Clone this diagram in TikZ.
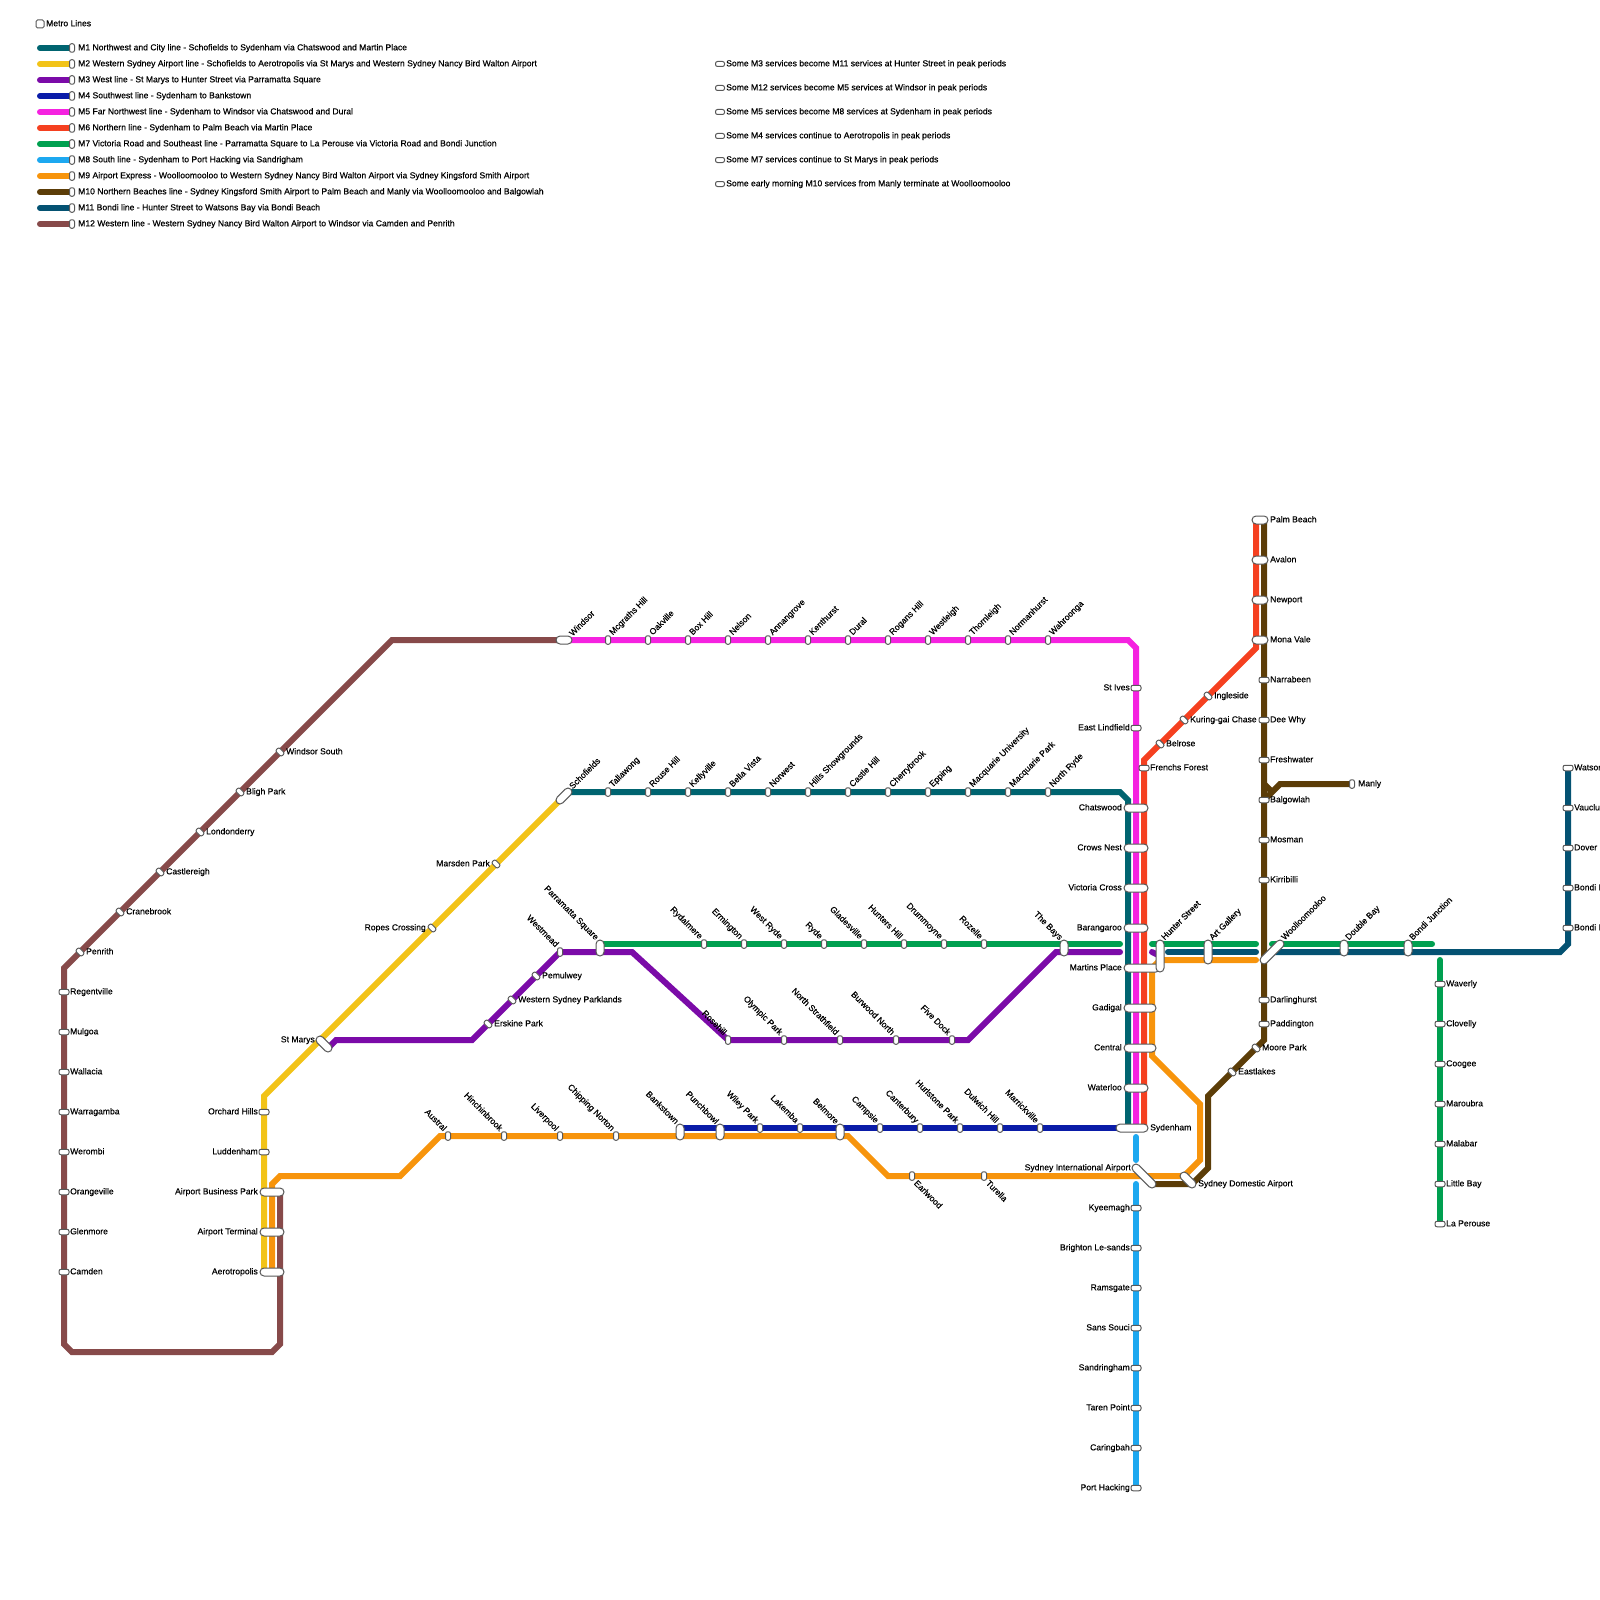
\documentclass[tikz,border=0pt]{standalone}
\usepackage{fontspec}
\newfontfamily\metrofont{Liberation Sans}[FakeBold=0.35]
\usetikzlibrary{backgrounds}
\definecolor{mone}{HTML}{006470}
\definecolor{mtwo}{HTML}{F2C318}
\definecolor{mthree}{HTML}{7B0BA8}
\definecolor{mfour}{HTML}{0A1CA8}
\definecolor{mfive}{HTML}{F522E0}
\definecolor{msix}{HTML}{F54020}
\definecolor{mseven}{HTML}{00A050}
\definecolor{meight}{HTML}{1DA8F0}
\definecolor{mnine}{HTML}{F7940C}
\definecolor{mten}{HTML}{5C3D08}
\definecolor{meleven}{HTML}{045272}
\definecolor{mtwelve}{HTML}{874A4A}
\tikzset{
  metro/.style = {line width=6pt},
  rnd/.style   = {metro, line cap=round},
  stn/.style   = {draw=black!65, fill=white, line width=1pt, inner sep=0pt,
                  rounded corners=2pt, minimum width=5pt, minimum height=8.5pt},
  stnl/.style  = {stn, minimum width=10pt, minimum height=5.5pt},
  pillh/.style = {stn, rounded corners=4pt, minimum height=8pt, minimum width=#1},
  pillv/.style = {stn, rounded corners=4pt, minimum width=8pt, minimum height=#1},
  txt/.style   = {font=\metrofont\fontsize{8.6}{10}\selectfont, inner sep=0pt,
                  text height=6.4pt, text depth=1.8pt},
  lblr/.style  = {txt, anchor=west},
  lbll/.style  = {txt, anchor=east},
  lblur/.style = {txt, anchor=west, rotate=45},
  lblul/.style = {txt, anchor=east, rotate=-45},
  lbldr/.style = {txt, anchor=west, rotate=-45}
}
\begin{document}
\begin{tikzpicture}[x=1pt,y=-1pt]
  \useasboundingbox (0,0) rectangle (1600,1600);
  % legend
  \node[stn, minimum width=8pt, minimum height=8pt, rounded corners=1.5pt] (legbox) at (40,24) {};
  \node[lblr] (legbox-t) at (46,24) {Metro Lines};
  \foreach \y/\col/\txtl in {
    48/mone/M1 Northwest and City line - Schofields to Sydenham via Chatswood and Martin Place,
    64/mtwo/M2 Western Sydney Airport line - Schofields to Aerotropolis via St Marys and Western Sydney Nancy Bird Walton Airport,
    80/mthree/M3 West line - St Marys to Hunter Street via Parramatta Square,
    96/mfour/M4 Southwest line - Sydenham to Bankstown,
    112/mfive/M5 Far Northwest line - Sydenham to Windsor via Chatswood and Dural,
    128/msix/M6 Northern line - Sydenham to Palm Beach via Martin Place,
    144/mseven/M7 Victoria Road and Southeast line - Parramatta Square to La Perouse via Victoria Road and Bondi Junction,
    160/meight/M8 South line - Sydenham to Port Hacking via Sandrigham,
    176/mnine/M9 Airport Express - Woolloomooloo to Western Sydney Nancy Bird Walton Airport via Sydney Kingsford Smith Airport,
    192/mten/M10 Northern Beaches line - Sydney Kingsford Smith Airport to Palm Beach and Manly via Woolloomooloo and Balgowlah,
    208/meleven/M11 Bondi line - Hunter Street to Watsons Bay via Bondi Beach,
    224/mtwelve/M12 Western line - Western Sydney Nancy Bird Walton Airport to Windsor via Camden and Penrith}{
    \coordinate (\col-a) at (40,\y);
    \node[stn] (\col-k) at (72,\y) {};
    \node[lblr] (\col-t) at (78,\y) {\txtl};
    \begin{scope}[on background layer]
      \draw[rnd,draw=\col] (\col-a) -- (\col-k.center);
    \end{scope}
  }
  \foreach \y/\nm/\txtl in {
    64/nta/Some M3 services become M11 services at Hunter Street in peak periods,
    88/ntb/Some M12 services become M5 services at Windsor in peak periods,
    112/ntc/Some M5 services become M8 services at Sydenham in peak periods,
    136/ntd/Some M4 services continue to Aerotropolis in peak periods,
    160/nte/Some M7 services continue to St Marys in peak periods,
    184/ntf/Some early morning M10 services from Manly terminate at Woolloomooloo}{
    \node[stn, minimum width=9pt, minimum height=5pt] (\nm) at (720,\y) {};
    \node[lblr] (\nm-t) at (726,\y) {\txtl};
  }
  % stations on upright lines, label right
  \foreach \x/\y/\nm/\txtl in {
    1264/680/narrabeen/Narrabeen, 1264/720/deewhy/Dee Why, 1264/760/freshwater/Freshwater,
    1264/800/balgowlah/Balgowlah, 1264/840/mosman/Mosman, 1264/880/kirribilli/Kirribilli,
    1264/1000/darlinghurst/Darlinghurst, 1264/1024/paddington/Paddington,
    64/992/regentville/Regentville, 64/1032/mulgoa/Mulgoa, 64/1072/wallacia/Wallacia,
    64/1112/warragamba/Warragamba, 64/1152/werombi/Werombi, 64/1192/orangeville/Orangeville,
    64/1232/glenmore/Glenmore, 64/1272/camden/Camden,
    1440/984/waverly/Waverly, 1440/1024/clovelly/Clovelly, 1440/1064/coogee/Coogee,
    1440/1104/maroubra/Maroubra, 1440/1144/malabar/Malabar, 1440/1184/littlebay/Little Bay,
    1440/1224/laperouse/La Perouse,
    1568/768/watsons/Watsons Bay, 1568/808/vaucluse/Vaucluse, 1568/848/dover/Dover Heights,
    1568/888/bondinorth/Bondi North, 1568/928/bondibeach/Bondi Beach,
    1144/768/frenchs/Frenchs Forest}{
    \node[stnl] (\nm) at (\x,\y) {};
    \node[lblr] (\nm-t) at (\x+6,\y) {\txtl};
  }
  % stations on upright lines, label left
  \foreach \x/\y/\nm/\txtl in {
    264/1112/orchard/Orchard Hills, 264/1152/luddenham/Luddenham,
    1136/688/stives/St Ives, 1136/728/lindfield/East Lindfield,
    1136/1208/kyeemagh/Kyeemagh, 1136/1248/brighton/Brighton Le-sands, 1136/1288/ramsgate/Ramsgate,
    1136/1328/sanssouci/Sans Souci, 1136/1368/sandringham/Sandringham, 1136/1408/taren/Taren Point,
    1136/1448/caringbah/Caringbah, 1136/1488/porthacking/Port Hacking}{
    \node[stnl] (\nm) at (\x,\y) {};
    \node[lbll] (\nm-t) at (\x-6,\y) {\txtl};
  }
  % stations on diagonals
  \foreach \x/\y/\nm/\txtl in {
    280/752/windsorsth/Windsor South, 240/792/bligh/Bligh Park, 200/832/londonderry/Londonderry,
    160/872/castlereigh/Castlereigh, 120/912/cranebrook/Cranebrook, 80/952/penrith/Penrith,
    488/1024/erskine/Erskine Park, 512/1000/parklands/Western Sydney Parklands, 536/976/pemulwey/Pemulwey,
    1208/696/ingleside/Ingleside, 1184/720/kuring/Kuring-gai Chase, 1160/744/belrose/Belrose,
    1256/1048/moorepark/Moore Park, 1232/1072/eastlakes/Eastlakes}{
    \node[stn, rotate=45] (\nm) at (\x,\y) {};
    \node[lblr] (\nm-t) at (\x+6,\y) {\txtl};
  }
  \foreach \x/\y/\nm/\txtl in {496/864/marsden/Marsden Park, 432/928/ropes/Ropes Crossing}{
    \node[stn, rotate=45] (\nm) at (\x,\y) {};
    \node[lbll] (\nm-t) at (\x-6,\y) {\txtl};
  }
  % stations with slanted labels
  \foreach \x/\y/\nm/\txtl in {
    608/792/tallawong/Tallawong, 648/792/rousehill/Rouse Hill, 688/792/kellyville/Kellyville,
    728/792/bellavista/Bella Vista, 768/792/norwest/Norwest, 808/792/hills/Hills Showgrounds,
    848/792/castlehill/Castle Hill, 888/792/cherrybrook/Cherrybrook, 928/792/epping/Epping,
    968/792/macuni/Macquarie University, 1008/792/macpark/Macquarie Park, 1048/792/northryde/North Ryde,
    608/640/mcgraths/Mcgraths Hill, 648/640/oakville/Oakville, 688/640/boxhill/Box Hill,
    728/640/nelson/Nelson, 768/640/annangrove/Annangrove, 808/640/kenthurst/Kenthurst,
    848/640/dural/Dural, 888/640/rogans/Rogans Hill, 928/640/westleigh/Westleigh,
    968/640/thornleigh/Thornleigh, 1008/640/normanhurst/Normanhurst, 1048/640/wahroonga/Wahroonga}{
    \node[stn] (\nm) at (\x,\y) {};
    \node[lblur] (\nm-t) at (\x+3,\y-6) {\txtl};
  }
  \foreach \x/\y/\nm/\txtl in {
    704/944/rydalmere/Rydalmere, 744/944/ermington/Ermington, 784/944/westryde/West Ryde,
    824/944/ryde/Ryde, 864/944/gladesville/Gladesville, 904/944/huntershill/Hunters Hill,
    944/944/drummoyne/Drummoyne, 984/944/rozelle/Rozelle,
    560/952/westmead/Westmead, 728/1040/rosehill/Rosehill, 784/1040/olympic/Olympic Park,
    840/1040/strathfield/North Strathfield, 896/1040/burwood/Burwood North, 952/1040/fivedock/Five Dock,
    760/1128/wiley/Wiley Park, 800/1128/lakemba/Lakemba, 880/1128/campsie/Campsie,
    920/1128/canterbury/Canterbury, 960/1128/hurlstone/Hurlstone Park, 1000/1128/dulwich/Dulwich Hill,
    1040/1128/marrickville/Marrickville,
    448/1136/austral/Austral, 504/1136/hinchinbrook/Hinchinbrook, 560/1136/liverpool/Liverpool,
    616/1136/chipping/Chipping Norton}{
    \node[stn] (\nm) at (\x,\y) {};
    \node[lblul] (\nm-t) at (\x-3,\y-6) {\txtl};
  }
  \foreach \x/\nm/\txtl in {912/earlwood/Earlwood, 984/turella/Turella}{
    \node[stn] (\nm) at (\x,1176) {};
    \node[lbldr] (\nm-t) at (\x+3,1176+6) {\txtl};
  }
  \node[stn] (manly) at (1352,784) {};
  \node[lblr] (manly-t) at (1358,784) {Manly};
  % interchanges
  \foreach \y/\nm/\txtl in {520/palm/Palm Beach, 560/avalon/Avalon, 600/newport/Newport, 640/monavale/Mona Vale}{
    \node[pillh=16pt] (\nm) at (1260,\y) {};
    \node[lblr] (\nm-t) at (1270,\y) {\txtl};
  }
  \foreach \x/\y/\w/\nm/\txtl in {
    1136/808/24/chatswood/Chatswood, 1136/848/24/crowsnest/Crows Nest, 1136/888/24/victoria/Victoria Cross,
    1136/928/24/barangaroo/Barangaroo, 1142/968/36/martins/Martins Place, 1140/1008/32/gadigal/Gadigal,
    1140/1048/32/central/Central, 1136/1088/24/waterloo/Waterloo,
    272/1192/24/business/Airport Business Park, 272/1232/24/terminal/Airport Terminal, 272/1272/24/aerotropolis/Aerotropolis}{
    \node[pillh=\w pt] (\nm) at (\x,\y) {};
    \node[lbll] (\nm-t) at (\x-\w/2-2,\y) {\txtl};
  }
  \foreach \x/\y/\h/\nm/\txtl in {
    600/948/16/parramatta/Parramatta Square, 1064/948/16/thebays/The Bays,
    680/1132/16/bankstown/Bankstown, 720/1132/16/punchbowl/Punchbowl, 840/1132/16/belmore/Belmore}{
    \node[pillv=\h pt] (\nm) at (\x,\y) {};
    \node[lblul] (\nm-t) at (\x-3,\y-\h/2-1) {\txtl};
  }
  \foreach \x/\y/\h/\nm/\txtl in {
    1160/956/32/hunter/Hunter Street, 1208/952/24/artgallery/Art Gallery,
    1344/948/16/doublebay/Double Bay, 1408/948/16/bondijn/Bondi Junction}{
    \node[pillv=\h pt] (\nm) at (\x,\y) {};
    \node[lblur] (\nm-t) at (\x+3,\y-\h/2-1) {\txtl};
  }
  \node[pillh=16pt] (windsor) at (564,640) {};
  \node[lblur] (windsor-t) at (571,635) {Windsor};
  \node[pillh=19.3pt, rotate=45] (schofields) at (564,796) {};
  \node[lblur] (schofields-t) at (571,788) {Schofields};
  \node[pillh=19.3pt, rotate=-45] (stmarys) at (324,1044) {};
  \node[lbll] (stmarys-t) at (315,1040) {St Marys};
  \node[pillh=30.6pt, rotate=45] (woolloomooloo) at (1272,952) {};
  \node[lblur] (woolloomooloo-t) at (1283,939) {Woolloomooloo};
  \node[pillh=30.6pt, rotate=-45] (intl) at (1144,1176) {};
  \node[lbll] (intl-t) at (1131,1168) {Sydney International Airport};
  \node[pillh=19.3pt, rotate=-45] (domestic) at (1188,1180) {};
  \node[lblr] (domestic-t) at (1198,1184) {Sydney Domestic Airport};
  \node[pillh=32pt] (sydenham) at (1132,1128) {};
  \node[lblr] (sydenham-t) at (1150,1128) {Sydenham};
  % line ends under the interchanges
  \coordinate (oneN) at (568,792);    \coordinate (oneS) at (1128,1128);
  \coordinate (twoN) at (560,800);    \coordinate (twoS) at (264,1272);
  \coordinate (threeW) at (328,1048); \coordinate (threeE) at (1120,952);
  \coordinate (threeHa) at (1152,952);
  \coordinate (fourW) at (680,1128);  \coordinate (fourE) at (1120,1128);
  \coordinate (fiveS) at (1136,1128);
  \coordinate (sixN) at (1256,520);   \coordinate (sixS) at (1144,1128);
  \coordinate (sevenW) at (600,944);  \coordinate (sevenA) at (1120,944);
  \coordinate (sevenB) at (1152,944); \coordinate (sevenC) at (1256,944);
  \coordinate (sevenD) at (1272,944); \coordinate (sevenE) at (1432,944);
  \coordinate (sevenF) at (1440,960);
  \coordinate (eightA) at (1136,1137); \coordinate (eightB) at (1136,1160);
  \coordinate (eightC) at (1136,1184);
  \coordinate (nineW) at (272,1272);  \coordinate (nineE) at (1256,960);
  \coordinate (tenS) at (1152,1184);  \coordinate (tenN) at (1264,520);
  \coordinate (tenB) at (1264,784);   \coordinate (tenC) at (1272,792);
  \coordinate (elevenA) at (1168,952); \coordinate (elevenB) at (1256,952);
  \coordinate (elevenC) at (1272,952);
  \coordinate (twelveE) at (280,1192);
  \begin{scope}[on background layer]
    \draw[metro,mone] (oneN) -- (1120,792) -- (1128,800) -- (oneS);
    \draw[metro,mtwo] (twoN) -- (264,1096) -- (twoS);
    \draw[rnd,mthree] (threeW) -- (336,1040) -- (472,1040) -- (westmead.center) -- (632,952)
      -- (rosehill.center) -- (968,1040) -- (1056,952) -- (threeE);
    \draw[rnd,mthree] (threeHa) -- (hunter.center);
    \draw[metro,mfour] (fourW) -- (fourE);
    \draw[metro,mfive] (windsor.center) -- (1128,640) -- (1136,648) -- (fiveS);
    \draw[metro,msix] (sixN) -- (1256,648) -- (1144,760) -- (sixS);
    \draw[rnd,mseven] (sevenW) -- (sevenA);
    \draw[rnd,mseven] (sevenB) -- (sevenC);
    \draw[rnd,mseven] (sevenD) -- (sevenE);
    \draw[rnd,mseven] (sevenF) -- (laperouse.center);
    \draw[rnd,meight] (eightA) -- (eightB);
    \draw[rnd,meight] (eightC) -- (porthacking.center);
    \draw[rnd,mnine] (nineW) -- (272,1184) -- (280,1176) -- (400,1176) -- (440,1136) -- (848,1136)
      -- (888,1176) -- (1184,1176) -- (1200,1160) -- (1200,1104) -- (1152,1056) -- (1152,968)
      -- (1160,960) -- (nineE);
    \draw[metro,mten] (tenS) -- (1192,1184) -- (1208,1168) -- (1208,1096) -- (1264,1040) -- (tenN);
    \draw[metro,mten] (balgowlah.center) -- (1280,784) -- (manly.center);
    \draw[metro,mten] (tenB) -- (tenC);
    \draw[rnd,meleven] (elevenA) -- (elevenB);
    \draw[metro,meleven] (elevenC) -- (1560,952) -- (1568,944) -- (watsons.center);
    \draw[metro,mtwelve] (windsor.center) -- (392,640) -- (64,968) -- (64,1344) -- (72,1352)
      -- (272,1352) -- (280,1344) -- (twelveE);
  \end{scope}
\end{tikzpicture}
\end{document}
